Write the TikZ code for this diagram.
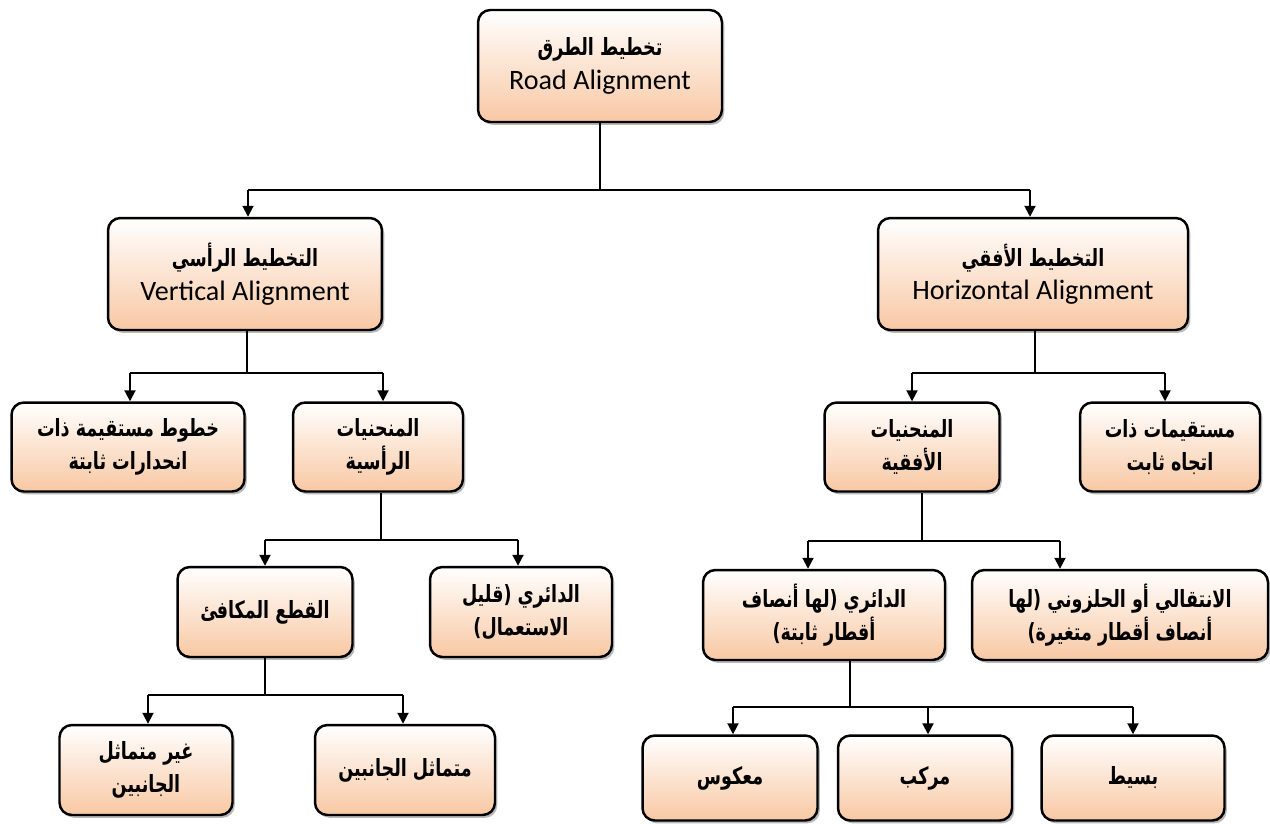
\documentclass[tikz,border=0pt]{standalone}
\usepackage{fontspec}
\setmainfont{Carlito}
\newfontfamily\arabicfont[Script=Arabic,FakeStretch=0.74]{DejaVu Sans}
\TeXXeTstate=1
\usetikzlibrary{arrows.meta,shadows}
\definecolor{peach}{RGB}{248,200,163}
\newcommand{\artxt}[1]{{\arabicfont\bfseries\fontsize{13.5}{19}\selectfont\beginR #1\endR}}
\begin{document}
\begin{tikzpicture}[x=0.02cm,y=-0.02cm,
    box/.style={draw=black,line width=1.4pt,rounded corners=7pt,align=center,
      top color=white,bottom color=peach,inner sep=2pt,
      drop shadow={shadow xshift=1.3pt,shadow yshift=-1.6pt,fill=black!55},
      font=\fontsize{16}{19}\selectfont},
    link/.style={line width=1.1pt},
    arr/.style={link,-{Triangle[length=2.2mm,width=2.2mm]}}]

        \useasboundingbox (0,0) rectangle (1270,823);

        \begin{scope}[every node/.style={box}]
          \node[minimum width=4.88cm,minimum height=2.24cm] (road)  at (600,66)  {\artxt{تخطيط الطرق}\\Road Alignment};
          \node[minimum width=5.48cm,minimum height=2.24cm] (vert)  at (245,274) {\artxt{التخطيط الرأسي}\\Vertical Alignment};
          \node[minimum width=6.2cm,minimum height=2.24cm]  (horz)  at (1033,274) {\artxt{التخطيط الأفقي}\\Horizontal Alignment};
          \node[minimum width=4.66cm,minimum height=1.78cm] (strt)  at (128,447) {\artxt{خطوط مستقيمة ذات}\\\artxt{انحدارات ثابتة}};
          \node[minimum width=3.4cm,minimum height=1.78cm]  (vcur)  at (378,447) {\artxt{المنحنيات}\\\artxt{الرأسية}};
          \node[minimum width=3.5cm,minimum height=1.78cm]  (hcur)  at (912,447) {\artxt{المنحنيات}\\\artxt{الأفقية}};
          \node[minimum width=3.6cm,minimum height=1.78cm]  (tang)  at (1170,447) {\artxt{مستقيمات ذات}\\\artxt{اتجاه ثابت}};
          \node[minimum width=3.5cm,minimum height=1.8cm]   (parab) at (265,612) {\artxt{القطع المكافئ}};
          \node[minimum width=3.64cm,minimum height=1.8cm]  (vcirc) at (521,612) {\artxt{الدائري (قليل}\\\artxt{الاستعمال)}};
          \node[minimum width=4.84cm,minimum height=1.8cm]  (hcirc) at (824,615) {\artxt{الدائري (لها أنصاف}\\\artxt{أقطار ثابتة)}};
          \node[minimum width=5.92cm,minimum height=1.8cm]  (trans) at (1120,615) {\artxt{الانتقالي أو الحلزوني (لها}\\\artxt{أنصاف أقطار متغيرة)}};
          \node[minimum width=3.46cm,minimum height=1.8cm]  (asym)  at (146,770) {\artxt{غير متماثل}\\\artxt{الجانبين}};
          \node[minimum width=3.6cm,minimum height=1.8cm]   (sym)   at (405,770) {\artxt{متماثل الجانبين}};
          \node[minimum width=3.5cm,minimum height=1.7cm]   (rev)   at (730,778) {\artxt{معكوس}};
          \node[minimum width=3.48cm,minimum height=1.7cm]  (comp)  at (925,778) {\artxt{مركب}};
          \node[minimum width=3.66cm,minimum height=1.7cm]  (simp)  at (1133,778) {\artxt{بسيط}};
        \end{scope}

        % fork points
        \coordinate (f1) at (600,190);  \coordinate (f1a) at (248,190);  \coordinate (f1b) at (1030,190);
        \coordinate (f2) at (247,373);  \coordinate (f2a) at (130,373);  \coordinate (f2b) at (383,373);
        \coordinate (f3) at (381,540);  \coordinate (f3a) at (265,540);  \coordinate (f3b) at (518,540);
        \coordinate (f4) at (1035,373); \coordinate (f4a) at (912,373);  \coordinate (f4b) at (1165,373);
        \coordinate (f5) at (922,541);  \coordinate (f5a) at (808,541);  \coordinate (f5b) at (1060,541);
        \coordinate (f6) at (850,707);  \coordinate (f6a) at (733,707);  \coordinate (f6b) at (1133,707);
        \coordinate (f6c) at (928,707);
        \coordinate (f7) at (265,695);  \coordinate (f7a) at (148,695);  \coordinate (f7b) at (403,695);

        \begin{scope}[every path/.style={link}]
          \draw (road.south -| f1) -- (f1);  \draw (f1a) -- (f1b);
          \draw (vert.south -| f2) -- (f2);  \draw (f2a) -- (f2b);
          \draw (vcur.south -| f3) -- (f3);  \draw (f3a) -- (f3b);
          \draw (horz.south -| f4) -- (f4);  \draw (f4a) -- (f4b);
          \draw (hcur.south -| f5) -- (f5);  \draw (f5a) -- (f5b);
          \draw (hcirc.south -| f6) -- (f6); \draw (f6a) -- (f6b);
          \draw (parab.south -| f7) -- (f7); \draw (f7a) -- (f7b);
        \end{scope}

        \draw[arr] (f1a) -- (f1a |- vert.north);
        \draw[arr] (f1b) -- (f1b |- horz.north);
        \draw[arr] (f2a) -- (f2a |- strt.north);
        \draw[arr] (f2b) -- (f2b |- vcur.north);
        \draw[arr] (f3a) -- (f3a |- parab.north);
        \draw[arr] (f3b) -- (f3b |- vcirc.north);
        \draw[arr] (f4a) -- (f4a |- hcur.north);
        \draw[arr] (f4b) -- (f4b |- tang.north);
        \draw[arr] (f5a) -- (f5a |- hcirc.north);
        \draw[arr] (f5b) -- (f5b |- trans.north);
        \draw[arr] (f6a) -- (f6a |- rev.north);
        \draw[arr] (f6c) -- (f6c |- comp.north);
        \draw[arr] (f6b) -- (f6b |- simp.north);
        \draw[arr] (f7a) -- (f7a |- asym.north);
        \draw[arr] (f7b) -- (f7b |- sym.north);

      \end{tikzpicture}
\end{document}
